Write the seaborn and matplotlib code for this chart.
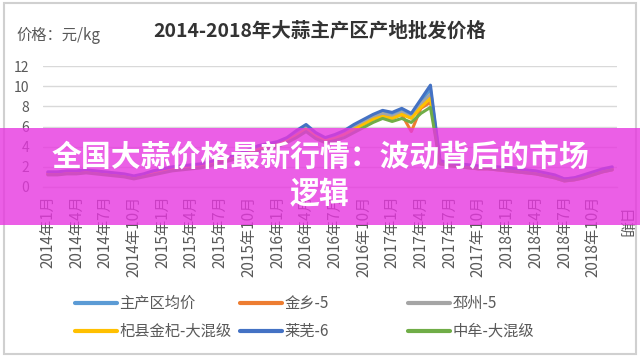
import matplotlib
matplotlib.use("Agg")
import matplotlib.pyplot as plt
from matplotlib.patches import Rectangle
import seaborn as sns
import pandas as pd
import numpy as np

sns.set_theme(style="white")
plt.rcParams['font.family'] = ['Noto Sans CJK SC', 'DejaVu Sans']

# ---------------- data ----------------
series_names = ["主产区均价", "金乡-5", "邳州-5", "杞县金杞-大混级", "莱芜-6", "中牟-大混级"]
series_colors = ["#5B9BD5", "#ED7D31", "#A5A5A5", "#FFC000", "#4472C4", "#70AD47"]

months = [f"{y}年{m}月" for y in range(2014, 2019) for m in range(1, 13)]

avg_main = [1.4,1.4,1.5,1.5,1.6,1.5,1.4,1.3,1.2,1.0,1.2,1.5,
            1.7,1.9,2.0,2.1,2.2,2.4,2.7,2.9,3.2,3.6,3.9,4.2,
            4.4,4.8,5.4,6.0,5.3,4.8,5.1,5.5,6.0,6.5,7.0,7.4,
            7.2,7.6,7.1,8.4,9.7,2.5,2.3,2.2,2.1,2.0,2.0,1.9,
            1.8,1.7,1.6,1.5,1.3,1.1,0.8,0.9,1.1,1.4,1.7,1.9]
jinxiang = [1.3,1.3,1.4,1.4,1.5,1.4,1.3,1.2,1.1,1.0,1.1,1.4,
            1.6,1.8,1.9,2.0,2.1,2.3,2.6,2.8,3.1,3.4,3.8,4.0,
            4.2,4.6,5.2,5.8,5.1,4.6,4.9,5.3,5.8,6.3,6.8,7.1,
            6.8,7.2,5.5,7.8,8.4,2.4,2.2,2.1,2.0,1.9,1.9,1.8,
            1.7,1.6,1.5,1.4,1.2,1.0,0.7,0.8,1.0,1.3,1.6,1.8]
pizhou = [1.3,1.3,1.4,1.5,1.5,1.4,1.3,1.2,1.1,0.9,1.1,1.4,
          1.6,1.8,1.9,2.0,2.1,2.3,2.6,2.9,3.1,3.5,3.8,4.1,
          4.3,4.7,5.3,5.9,5.2,4.7,5.0,5.4,5.9,6.4,6.9,7.3,
          7.0,7.4,6.9,8.2,9.2,2.4,2.2,2.1,2.0,1.9,1.9,1.8,
          1.7,1.6,1.5,1.4,1.2,1.0,0.7,0.8,1.0,1.3,1.6,1.8]
qixian = [1.3,1.3,1.4,1.4,1.5,1.4,1.3,1.2,1.1,0.9,1.1,1.3,
          1.5,1.7,1.8,1.9,2.0,2.2,2.5,2.7,3.0,3.4,3.7,4.0,
          4.2,4.6,5.1,5.7,5.0,4.6,4.8,5.2,5.7,6.2,6.7,7.0,
          6.8,7.2,6.8,7.9,8.8,2.3,2.1,2.0,1.9,1.8,1.8,1.7,
          1.6,1.5,1.4,1.3,1.1,0.9,0.6,0.7,0.9,1.2,1.5,1.7]
laiwu = [1.5,1.5,1.6,1.6,1.7,1.6,1.5,1.4,1.3,1.1,1.3,1.6,
         1.8,2.0,2.1,2.2,2.3,2.5,2.8,3.0,3.3,3.7,4.1,4.3,
         4.5,4.9,5.6,6.2,5.4,4.9,5.2,5.6,6.2,6.7,7.2,7.6,
         7.4,7.8,7.3,8.7,10.1,2.6,2.4,2.3,2.2,2.1,2.1,2.0,
         1.9,1.8,1.7,1.6,1.4,1.2,0.8,0.9,1.2,1.5,1.8,2.0]
zhongmu = [1.2,1.2,1.3,1.3,1.4,1.3,1.2,1.1,1.0,0.8,1.0,1.2,
           1.4,1.6,1.7,1.8,1.9,2.1,2.4,2.6,2.9,3.2,3.5,3.8,
           4.0,4.4,4.9,5.5,4.8,4.4,4.6,4.9,5.4,5.9,6.4,6.8,
           6.5,6.8,6.4,7.3,7.9,2.3,2.1,2.0,1.9,1.8,1.8,1.7,
           1.6,1.5,1.4,1.3,1.1,0.9,0.6,0.7,0.9,1.2,1.5,1.7]

y_ticks = [0, 2, 4, 6, 8, 10, 12]
title_text = "2014-2018年大蒜主产区产地批发价格"
unit_text = "价格：元/kg"
xaxis_title = "日期"
banner_line1 = "全国大蒜价格最新行情：波动背后的市场"
banner_line2 = "逻辑"

all_values = [avg_main, jinxiang, pizhou, qixian, laiwu, zhongmu]
frames = []
for name, vals in zip(series_names, all_values):
    frames.append(pd.DataFrame({"m": np.arange(len(months)), "v": vals, "s": name}))
df = pd.concat(frames, ignore_index=True)

# ---------------- figure ----------------
W, H = 640, 356
fig = plt.figure(figsize=(W / 100, H / 100), dpi=100)
fig.patch.set_facecolor("white")
ax = fig.add_axes([43 / W, 1 - 187 / H, 574 / W, 121 / H])

sns.lineplot(data=df, x="m", y="v", hue="s", hue_order=series_names,
             palette=series_colors, linewidth=2.2, legend=False,
             errorbar=None, ax=ax)

ax.set_xlim(-0.5, len(months) - 0.5)
ax.set_ylim(0, 12)
ax.set_yticks(y_ticks)
ax.set_yticklabels([str(t) for t in y_ticks], fontsize=10, color="#595959")
ax.grid(axis="y", color="#d9d9d9", linewidth=1.0)
ax.set_axisbelow(True)
for sp in ["top", "right", "left"]:
    ax.spines[sp].set_visible(False)
ax.spines["bottom"].set_color("#d9d9d9")
ax.spines["bottom"].set_linewidth(1.0)

tick_pos = list(range(0, len(months), 3))
ax.set_xticks(tick_pos)
ax.set_xticklabels([months[i] for i in tick_pos], rotation=90, fontsize=11,
                   color="#595959")
ax.set_xticks(np.arange(-0.5, len(months), 3), minor=True)
ax.tick_params(axis="x", which="major", length=0, pad=6)
ax.tick_params(axis="x", which="minor", length=5, color="#d9d9d9", width=1)
ax.tick_params(axis="y", length=0, pad=10)
ax.set_xlabel("")
ax.set_ylabel("")

# axis title at right end
fig.text(623 / W, 1 - 224 / H, xaxis_title, rotation=270, fontsize=11,
         color="#595959", ha="center", va="center")

# titles
fig.text(320 / W, 1 - 31 / H, title_text, fontsize=14, fontweight="bold",
         color="#333333", ha="center", va="center")
fig.text(16 / W, 1 - 35 / H, unit_text, fontsize=11, color="#595959",
         ha="left", va="center")

# legend: three columns
handles = ax.lines[:6]
col_x = [75, 240, 408]
for c in range(3):
    leg = fig.legend([handles[c], handles[c + 3]],
                     [series_names[c], series_names[c + 3]],
                     loc="upper left", bbox_to_anchor=(col_x[c] / W, 1 - 295 / H),
                     bbox_transform=fig.transFigure, frameon=False,
                     fontsize=11, handlelength=2.75, handletextpad=0.15,
                     labelspacing=0.72, borderpad=0, borderaxespad=0)
    for t in leg.get_texts():
        t.set_color("#595959")
    for ln in leg.get_lines():
        ln.set_linewidth(3)

# outer card border
fig.patches.append(Rectangle((4 / W, 2 / H), 632 / W, 351 / H, transform=fig.transFigure,
                             fill=False, edgecolor="#d0d0d0", linewidth=1.5, zorder=5))

# banner overlay
fig.patches.append(Rectangle((0, 1 - 225 / H), 1, 97 / H, transform=fig.transFigure,
                             facecolor="#E737E0", edgecolor="none", alpha=0.8, zorder=10))
fig.text(320 / W, 1 - 158 / H, banner_line1, fontsize=21.5, fontweight="bold",
         color="white", ha="center", va="center", zorder=11)
fig.text(320 / W, 1 - 194 / H, banner_line2, fontsize=21.5, fontweight="bold",
         color="white", ha="center", va="center", zorder=11)

fig.savefig("out.png", dpi=100, facecolor="white")
